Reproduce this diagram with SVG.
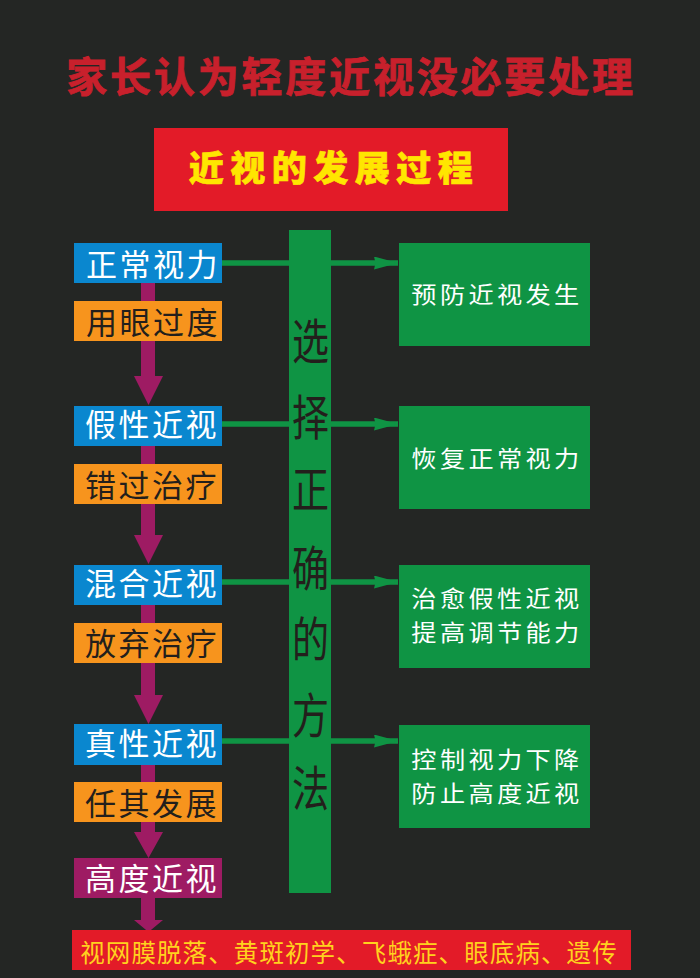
<svg xmlns="http://www.w3.org/2000/svg" width="700" height="978" viewBox="0 0 700 978">
<defs>
<marker id="ga" markerUnits="userSpaceOnUse" markerWidth="24" markerHeight="13" refX="24" refY="6.500" orient="auto"><path d="M0 0L24 6.500L0 13L1.500 6.500Z" fill="#0f9444"/></marker>
</defs>
<style>
text{font-family:"Noto Sans CJK SC","Noto Sans CJK JP",sans-serif;text-anchor:middle}
.b{fill:#0a87cf}.o{fill:#f7941d}.p{fill:#9e1b63}.g{fill:#0f9444}.r{fill:#e31b28}
.l{font-size:31px;letter-spacing:2.5px}
.w{fill:#fff}.k{fill:#231f1c}
.m{font-size:22.500px;letter-spacing:3px;fill:#fff}
.v{font-size:37px;fill:#231f1c}
.c{stroke:#0f9444;stroke-width:5.500;fill:none}
</style>
<rect width="700" height="978" fill="#242624"/>
<g id="connectors">
<path class="p" d="M141 283H155V376H163L148.500 405L134 376H141Z"/>
<path class="p" d="M141 446H155V535H163L148.500 564L134 535H141Z"/>
<path class="p" d="M141 605H155V695H163L148.500 724L134 695H141Z"/>
<path class="p" d="M141 765H155V832H163L148.500 858L134 832H141Z"/>
<path class="p" d="M141 898H155V920H163L148.500 932L134 920H141Z"/>
<path class="c" d="M222 263H398" marker-end="url(#ga)"/>
<path class="c" d="M222 424H398" marker-end="url(#ga)"/>
<path class="c" d="M222 582H398" marker-end="url(#ga)"/>
<path class="c" d="M222 741H398" marker-end="url(#ga)"/>
</g>
<g id="title"><text x="351" y="92" font-size="41" font-weight="700" fill="#c8202c" stroke="#c8202c" stroke-width=".8" letter-spacing="2.800">家长认为轻度近视没必要处理</text></g>
<g id="header"><rect class="r" x="154" y="128" width="354" height="83"/><text x="334" y="181" font-size="35" font-weight="900" fill="#ffe600" stroke="#ffe600" stroke-width=".6" letter-spacing="6.500">近视的发展过程</text></g>
<g id="n1"><rect class="b" x="74" y="243" width="148" height="40"/><text class="l w" x="153" y="276">正常视力</text></g>
<g id="s1"><rect class="o" x="74" y="301" width="148" height="40"/><text class="l k" x="153" y="334">用眼过度</text></g>
<g id="n2"><rect class="b" x="74" y="406" width="148" height="40"/><text class="l w" x="152" y="436">假性近视</text></g>
<g id="s2"><rect class="o" x="74" y="464" width="148" height="40"/><text class="l k" x="152" y="497">错过治疗</text></g>
<g id="n3"><rect class="b" x="74" y="565" width="148" height="40"/><text class="l w" x="152" y="595">混合近视</text></g>
<g id="s3"><rect class="o" x="74" y="623" width="148" height="40"/><text class="l k" x="152" y="655">放弃治疗</text></g>
<g id="n4"><rect class="b" x="74" y="724" width="148" height="41"/><text class="l w" x="152" y="755">真性近视</text></g>
<g id="s4"><rect class="o" x="74" y="782" width="148" height="40"/><text class="l k" x="152" y="815">任其发展</text></g>
<g id="n5"><rect class="p" x="74" y="858" width="148" height="40"/><text class="l w" x="152" y="890">高度近视</text></g>
<g id="result"><rect class="r" x="72" y="930" width="559" height="40"/><text x="349" y="962" font-size="24.500" letter-spacing="1.100" fill="#ffd21e">视网膜脱落、黄斑初学、飞蛾症、眼底病、遗传</text></g>
<g id="bar"><rect class="g" x="289" y="230" width="42" height="663"/>
<text class="v" transform="translate(310.500 359) scale(1 1.300)">选</text><text class="v" transform="translate(310.500 435) scale(1 1.300)">择</text><text class="v" transform="translate(310.500 507) scale(1 1.300)">正</text><text class="v" transform="translate(310.500 586) scale(1 1.300)">确</text><text class="v" transform="translate(310.500 657) scale(1 1.300)">的</text><text class="v" transform="translate(310.500 733) scale(1 1.300)">方</text><text class="v" transform="translate(310.500 806) scale(1 1.300)">法</text></g>
<g id="r1"><rect class="g" x="399" y="243" width="191" height="103"/><text class="m" transform="translate(497 303) scale(1.120 1)">预防近视发生</text></g>
<g id="r2"><rect class="g" x="399" y="406" width="191" height="103"/><text class="m" transform="translate(497 467) scale(1.120 1)">恢复正常视力</text></g>
<g id="r3"><rect class="g" x="399" y="565" width="191" height="103"/><text class="m" transform="translate(497 607) scale(1.120 1)">治愈假性近视</text><text class="m" transform="translate(497 640.500) scale(1.120 1)">提高调节能力</text></g>
<g id="r4"><rect class="g" x="399" y="725" width="191" height="103"/><text class="m" transform="translate(497 768) scale(1.120 1)">控制视力下降</text><text class="m" transform="translate(497 801.500) scale(1.120 1)">防止高度近视</text></g>
</svg>
